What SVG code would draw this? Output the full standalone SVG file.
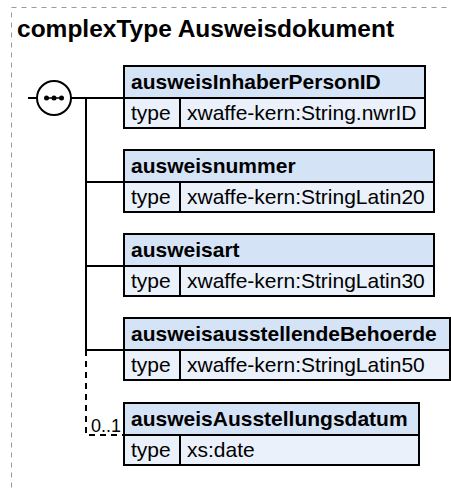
<svg xmlns="http://www.w3.org/2000/svg" width="451" height="489" viewBox="0 0 451 489">
<style>
.frame{fill:none;stroke:#9a9a9a;stroke-width:1;stroke-dasharray:5,5}
.title{font-family:"Liberation Sans",Arial,sans-serif;font-weight:bold;font-size:24.5px;fill:#000}
.hdr{fill:#d5e3f7;stroke:#000;stroke-width:2}
.row{fill:#eaf1fb;stroke:#000;stroke-width:2}
.shadow{fill:#c8c8c8}
.name{font-family:"Liberation Sans",Arial,sans-serif;font-weight:bold;font-size:21px;fill:#000}
.txt{font-family:"Liberation Sans",Arial,sans-serif;font-size:21px;fill:#000}
.occ{font-family:"Liberation Sans",Arial,sans-serif;font-size:18px;fill:#000}
.ln{fill:none;stroke:#000;stroke-width:2}
.dash{fill:none;stroke:#000;stroke-width:2;stroke-dasharray:6,5}
</style>
<rect class="frame" x="11.5" y="7.5" width="460" height="500"/>
<text class="title" x="17" y="37">complexType Ausweisdokument</text>
<g id="connectors">
<line class="ln" x1="28" y1="98" x2="37" y2="98"/>
<line class="ln" x1="71" y1="98" x2="124" y2="98"/>
<line class="ln" x1="86" y1="98" x2="86" y2="350"/>
<line class="ln" x1="86" y1="182" x2="124" y2="182"/>
<line class="ln" x1="86" y1="266" x2="124" y2="266"/>
<line class="ln" x1="86" y1="350" x2="124" y2="350"/>
<path class="dash" d="M86,350 V435 H124"/>
</g>
<g id="sequence">
<circle cx="54" cy="98" r="17" fill="#fff" stroke="#000" stroke-width="2"/>
<line x1="45" y1="98" x2="63" y2="98" stroke="#000" stroke-width="1.5"/>
<circle cx="46.5" cy="98" r="2.5" fill="#000"/>
<circle cx="54" cy="98" r="2.5" fill="#000"/>
<circle cx="61.5" cy="98" r="2.5" fill="#000"/>
</g>
<g id="ausweisInhaberPersonID">
<rect class="hdr" x="124" y="66" width="301" height="32"/>
<rect class="row" x="124" y="98" width="301" height="30"/>
<line class="ln" x1="180" y1="98" x2="180" y2="128"/>
<text class="name" x="131" y="89">ausweisInhaberPersonID</text>
<text class="txt" x="131" y="120">type</text>
<text class="txt" x="187" y="120">xwaffe-kern:String.nwrID</text>
</g>
<g id="ausweisnummer">
<rect class="hdr" x="124" y="150" width="310" height="32"/>
<rect class="row" x="124" y="182" width="310" height="30"/>
<line class="ln" x1="180" y1="182" x2="180" y2="212"/>
<text class="name" x="131" y="173">ausweisnummer</text>
<text class="txt" x="131" y="204">type</text>
<text class="txt" x="187" y="204">xwaffe-kern:StringLatin20</text>
</g>
<g id="ausweisart">
<rect class="hdr" x="124" y="234" width="310" height="32"/>
<rect class="row" x="124" y="266" width="310" height="30"/>
<line class="ln" x1="180" y1="266" x2="180" y2="296"/>
<text class="name" x="131" y="257">ausweisart</text>
<text class="txt" x="131" y="288">type</text>
<text class="txt" x="187" y="288">xwaffe-kern:StringLatin30</text>
</g>
<g id="ausweisausstellendeBehoerde">
<rect class="hdr" x="124" y="318" width="326" height="32"/>
<rect class="row" x="124" y="350" width="326" height="30"/>
<line class="ln" x1="180" y1="350" x2="180" y2="380"/>
<text class="name" x="131" y="341">ausweisausstellendeBehoerde</text>
<text class="txt" x="131" y="372">type</text>
<text class="txt" x="187" y="372">xwaffe-kern:StringLatin50</text>
</g>
<g id="ausweisAusstellungsdatum">
<rect class="hdr" x="124" y="403" width="295" height="32"/>
<rect class="row" x="124" y="435" width="295" height="30"/>
<line class="ln" x1="180" y1="435" x2="180" y2="465"/>
<text class="name" x="131" y="426">ausweisAusstellungsdatum</text>
<text class="txt" x="131" y="457">type</text>
<text class="txt" x="187" y="457">xs:date</text>
<text class="occ" x="121" y="432" text-anchor="end">0..1</text>
</g>
</svg>
